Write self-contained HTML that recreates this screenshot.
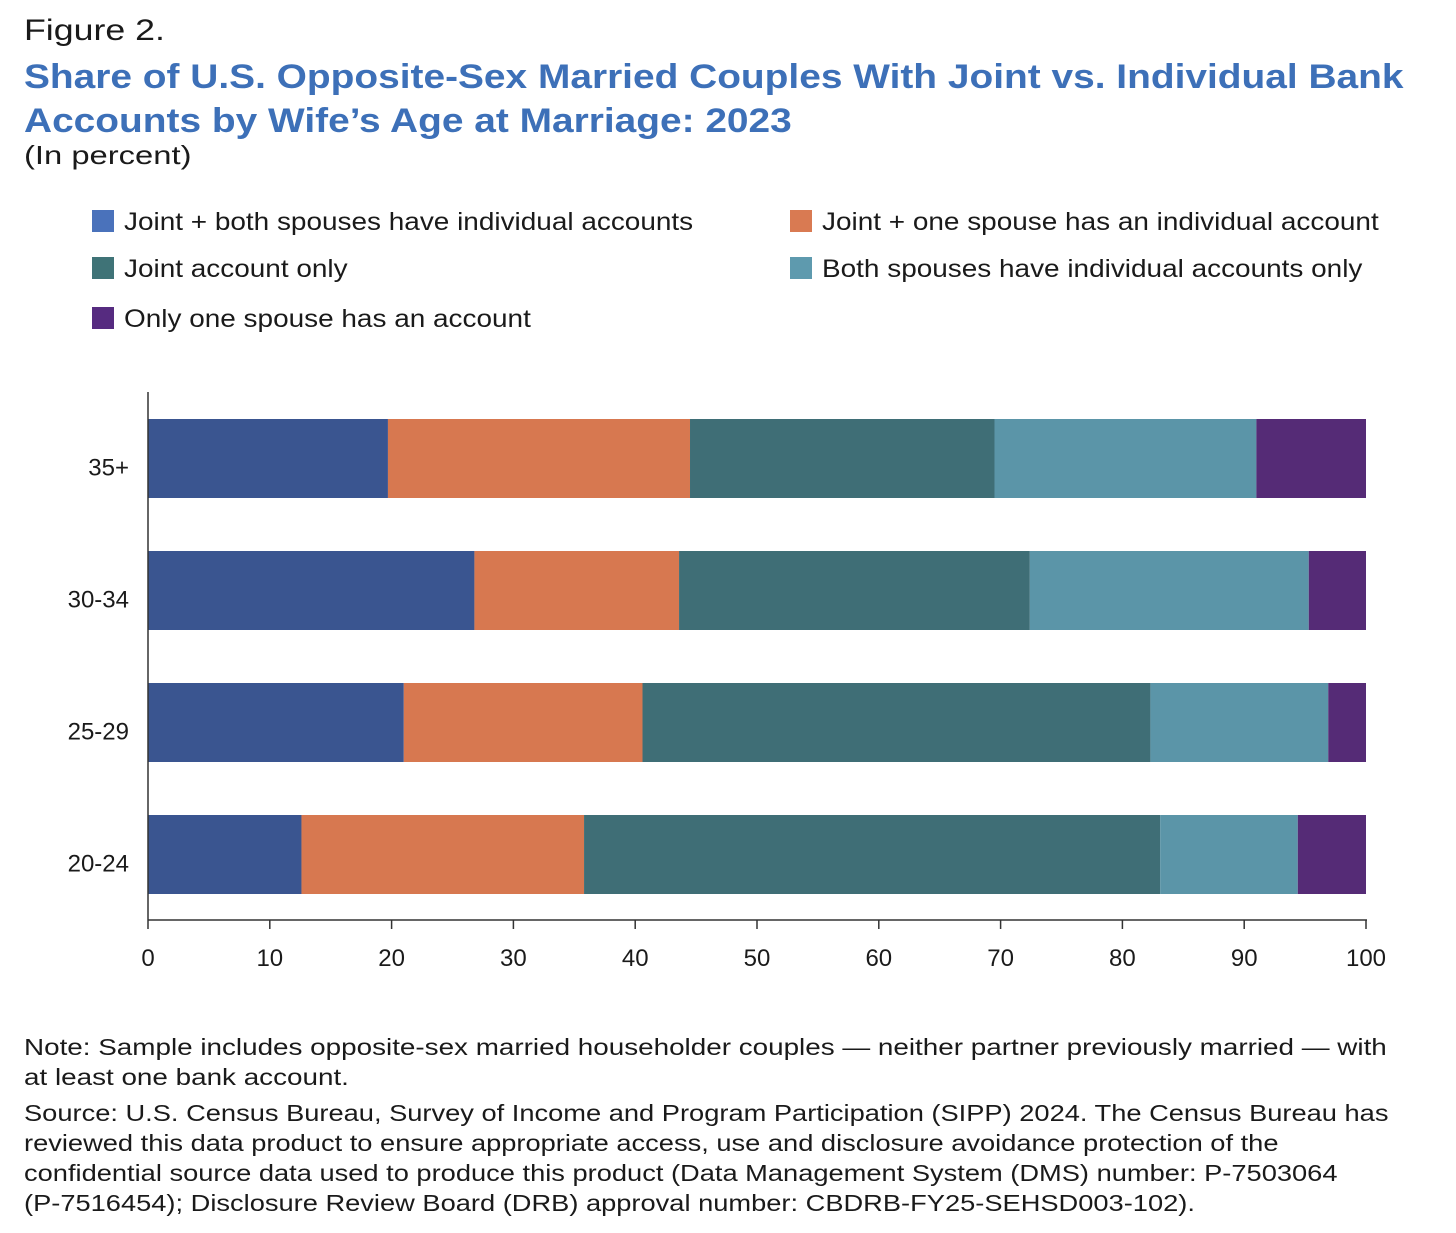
<!DOCTYPE html>
<html><head><meta charset="utf-8">
<style>
body{margin:0;background:#fff;font-family:"Liberation Sans",sans-serif;color:#1a1a1a}
#wrap{position:relative;width:1456px;height:1233px;overflow:hidden}
.t{position:absolute;left:24px;white-space:nowrap;transform-origin:0 0}
</style></head><body>
<div id="wrap">
<div class="t" style="top:14px;font-size:30px;transform:scaleX(1.19)">Figure 2.</div>
<div class="t" style="top:55px;font-size:34px;font-weight:bold;color:#3d70b8;line-height:44px;transform:scaleX(1.143)">Share of U.S. Opposite-Sex Married Couples With Joint vs. Individual Bank<br>Accounts by Wife’s Age at Marriage: 2023</div>
<div class="t" style="top:140px;font-size:26px;transform:scaleX(1.26)">(In percent)</div>
<svg id="chart" width="1456" height="1010" style="position:absolute;left:0;top:0"></svg>
<div class="t" style="top:1032px;font-size:23px;line-height:30px;transform:scaleX(1.21)">Note: Sample includes opposite-sex married householder couples — neither partner previously married — with<br>at least one bank account.</div>
<div class="t" style="top:1098px;font-size:23px;line-height:30px;transform:scaleX(1.185)">Source: U.S. Census Bureau, Survey of Income and Program Participation (SIPP) 2024. The Census Bureau has<br>reviewed this data product to ensure appropriate access, use and disclosure avoidance protection of the<br>confidential source data used to produce this product (Data Management System (DMS) number: P-7503064<br>(P-7516454); Disclosure Review Board (DRB) approval number: CBDRB-FY25-SEHSD003-102).</div>
</div>
<script>
const categories=["35+","30-34","25-29","20-24"];
const seriesNames=["Joint + both spouses have individual accounts","Joint + one spouse has an individual account","Joint account only","Both spouses have individual accounts only","Only one spouse has an account"];
const jointBoth=[19.7,26.8,21.0,12.6];
const jointOne=[24.8,16.8,19.6,23.2];
const jointOnly=[25.0,28.8,41.7,47.3];
const bothIndiv=[21.5,22.9,14.6,11.3];
const oneOnly=[9.0,4.7,3.1,5.6];
const xTicks=[0,10,20,30,40,50,60,70,80,90,100];
const series=[jointBoth,jointOne,jointOnly,bothIndiv,oneOnly];
const colors=["#3a5590","#d77850","#3f6e76","#5b95a8","#552b76"];
const legendColors=["#4a72bb","#d97a52","#3f7377","#5e9aae","#562b80"];
const NS="http://www.w3.org/2000/svg";
const svg=document.getElementById("chart");
const x0=148,x1=1366;
const xs=v=>x0+(x1-x0)*v/100;
const barTop=419,barStep=132,barH=79;
function mk(tag,attrs){const e=document.createElementNS(NS,tag);for(const k in attrs)e.setAttribute(k,attrs[k]);svg.appendChild(e);return e;}
const legPos=[[92,221],[790,221],[92,268],[790,268],[92,318]];
seriesNames.forEach((n,i)=>{
  const r=mk("rect",{x:legPos[i][0],y:legPos[i][1]-11,width:22,height:22,fill:legendColors[i]});
  
  
  const tx=legPos[i][0]+32;
  const t=mk("text",{x:0,y:legPos[i][1]+9,"font-size":25,fill:"#1a1a1a","font-family":"Liberation Sans, sans-serif",transform:"translate("+tx+",0) scale(1.118,1)"});
  t.textContent=n;
  
  
});
categories.forEach((c,ci)=>{
  const y=barTop+ci*barStep;
  let acc=0;
  series.forEach((s,si)=>{
    const r=mk("rect",{x:xs(acc),y:y,width:xs(acc+s[ci])-xs(acc),height:barH,fill:colors[si]});
    
    
    acc+=s[ci];
  });
  const t=mk("text",{x:129,y:y+barH/2+17,"font-size":24,"text-anchor":"end",fill:"#1a1a1a","font-family":"Liberation Sans, sans-serif"});
  t.textContent=c;
  
  
});
const ya=mk("line",{x1:x0,y1:392,x2:x0,y2:920,stroke:"#333","stroke-width":1.5});


const xa=mk("line",{x1:x0,y1:920,x2:x1+1,y2:920,stroke:"#333","stroke-width":1.5});


xTicks.forEach(v=>{
  const l=mk("line",{x1:xs(v),y1:920,x2:xs(v),y2:929,stroke:"#333","stroke-width":1.5});
  
  
  const t=mk("text",{x:xs(v),y:966,"font-size":24,"text-anchor":"middle",fill:"#1a1a1a","font-family":"Liberation Sans, sans-serif"});
  t.textContent=v;
  
  
});
</script>
</body></html>
